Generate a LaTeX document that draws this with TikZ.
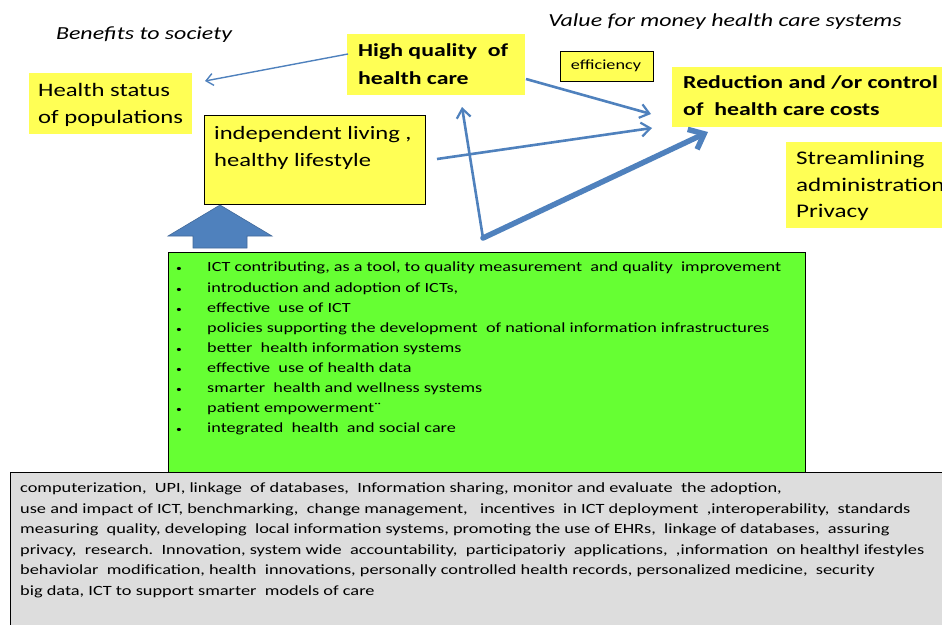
\documentclass[tikz,border=0pt]{standalone}
\usepackage{fontspec}
\setmainfont{Carlito}
\newfontfamily\widefont[FakeStretch=1.3]{Carlito}
\usetikzlibrary{arrows.meta}
\definecolor{note}{HTML}{FFFF55}
\definecolor{ictgreen}{HTML}{66FF33}
\definecolor{basegray}{HTML}{DDDDDD}
\definecolor{flow}{HTML}{4F81BD}
\definecolor{flowdark}{HTML}{41699A}
\newcommand{\bul}{\makebox[32pt][l]{\hspace{1pt}\fontsize{9}{9}\selectfont\textbullet}}
\tikzset{
  plainnote/.style={fill=note, inner sep=0pt, anchor=north west},
  framednote/.style={fill=note, draw=black, line width=1.2pt, inner sep=0pt, anchor=north west},
  heading/.style={font=\widefont\fontsize{18.4}{20}\selectfont\itshape, inner sep=0pt},
  notetext/.style={align=left, inner sep=0pt, anchor=north west},
  link/.style={draw=flow, line width=2.6pt, -{Straight Barb[length=9pt,width=14pt,line width=2.2pt]}},
}
\begin{document}
\begin{tikzpicture}[x=1pt,y=-1pt]
\useasboundingbox (0,0) rectangle (942,624);

% headings
\node[heading] (benefits) at (144,35) {Benefits to society};
\node[heading] (value) at (725,22) {Value for money health care systems};

% outcome boxes
\node[plainnote, minimum width=163pt, minimum height=61pt] (health) at (29,73) {};
\node[notetext, font=\widefont\fontsize{19}{27}\selectfont] (healthtxt) at (38,83) {Health status\\of populations};

\node[plainnote, minimum width=178pt, minimum height=61pt] (quality) at (347,34) {};
\node[notetext, font=\widefont\fontsize{18.3}{28}\selectfont\bfseries] (qualitytxt) at (358,43) {High quality\ \ of\\health care};

\node[framednote, minimum width=93pt, minimum height=30pt] (efficiency) at (560,51) {};
\node[font=\widefont\fontsize{14}{15}\selectfont, inner sep=0pt] (efftxt) at (606,66) {efficiency};

\node[plainnote, minimum width=280pt, minimum height=60pt] (costs) at (672,67) {};
\node[notetext, font=\widefont\fontsize{18.3}{27}\selectfont\bfseries] (coststxt) at (683,75) {Reduction and /or control\\of\ \ health care costs};

\node[plainnote, minimum width=170pt, minimum height=86pt] (admin) at (786,142) {};
\node[notetext, font=\widefont\fontsize{19.3}{26.5}\selectfont] (admintxt) at (796,151) {Streamlining\\administration\\Privacy};

\node[framednote, minimum width=221pt, minimum height=89pt] (living) at (204,115) {};
\node[notetext, font=\widefont\fontsize{18.9}{27}\selectfont] (livingtxt) at (214,126) {independent living ,\\healthy lifestyle};

% ICT measures
\node[fill=ictgreen, draw=black, line width=1.2pt, inner sep=0pt, anchor=north west,
      minimum width=637pt, minimum height=220pt] (ict) at (168,252) {};
\node[notetext, font=\widefont\fontsize{14}{20.1}\selectfont] (icttxt) at (175,262) {%
\bul ICT contributing, as a tool, to quality measurement\ \ and quality\ \ improvement\\
\bul introduction and adoption of ICTs,\\
\bul effective\ \ use of ICT\\
\bul policies supporting the development\ \ of national information infrastructures\\
\bul better\ \ health information systems\\
\bul effective\ \ use of health data\\
\bul smarter\ \ health and wellness systems\\
\bul patient empowerment¨\\
\bul integrated\ \ health\ \ and social care};

% enabling actions
\node[fill=basegray, draw=black, line width=1.2pt, inner sep=0pt, anchor=north west,
      minimum width=960pt, minimum height=170pt] (actions) at (10,472) {};
\node[notetext, font=\widefont\fontsize{14.1}{20.5}\selectfont] (actionstxt) at (20,483) {%
computerization,\ \ UPI, linkage\ \ of databases,\ \ Information sharing, monitor and evaluate\ \ the adoption,\\
use and impact of ICT, benchmarking,\ \ change management,\ \ \ incentives\ \ in ICT deployment\ \ ,interoperability,\ \ standards\\
measuring\ \ quality, developing\ \ local information systems, promoting the use of EHRs,\ \ linkage of databases,\ \ assuring\\
privacy,\ \ research.\ \ Innovation, system wide\ \ accountability,\ \ participatoriy\ \ applications,\ \ ,information\ \ on healthyl ifestyles\\
behaviolar\ \ modification, health\ \ innovations, personally controlled health records, personalized medicine,\ \ security\\
big data, ICT to support smarter\ \ models of care};

% broad arrow from ICT measures up to independent living
\draw[fill=flow, draw=flowdark, line width=0.6pt]
  (193,248) -- (193,236) -- (168,236) -- (220,205) -- (272,236) -- (247,236) -- (247,248) -- cycle;

% connectors
\coordinate (toHealth) at (205,81);
\coordinate (fromQuality) at (348,54);
\coordinate (toCostsA) at (651,114);
\coordinate (toCostsB) at (652,128);
\coordinate (toCostsC) at (708,132);
\coordinate (toQuality) at (462,107);
\coordinate (vertex) at (483,238);
\coordinate (fromLiving) at (437,159);
\coordinate (fromQualityR) at (526,79);

\draw[link, line width=1.4pt, -{Straight Barb[length=7pt,width=12pt,line width=1.4pt]}] (fromQuality) -- (toHealth);
\draw[link] (fromQualityR) -- (toCostsA);
\draw[link] (fromLiving) -- (toCostsB);
\draw[link] (vertex) -- (toQuality);
\draw[draw=flow, line width=5.5pt, line cap=round, -{Straight Barb[length=13pt,width=22pt,line width=5.5pt]}] (vertex) -- (toCostsC);
\end{tikzpicture}
\end{document}
